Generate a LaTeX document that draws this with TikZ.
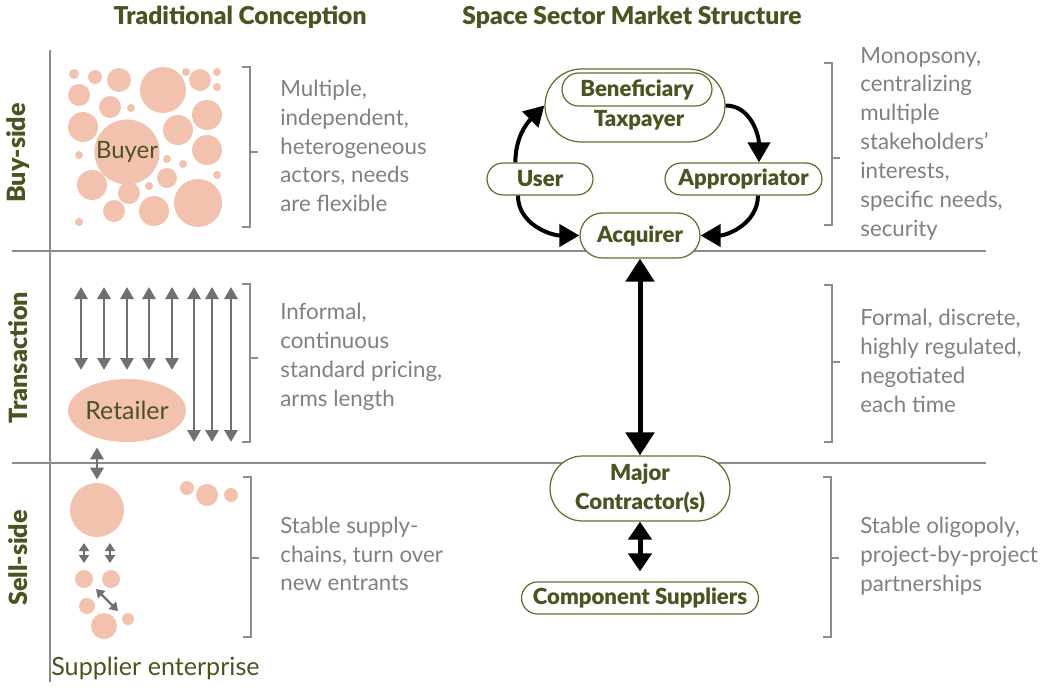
\documentclass[tikz,border=0pt]{standalone}
\usepackage{fontspec}
\setmainfont{Lato}
\newfontfamily\heavyfont{Lato Black}
\usepackage{tikz}
\usetikzlibrary{arrows.meta,shapes.misc,shapes.geometric}
\definecolor{olivetext}{HTML}{4B5320}
\definecolor{pilledge}{HTML}{6B6B30}
\definecolor{blush}{HTML}{F3C2AE}
\definecolor{greytext}{HTML}{808080}
\definecolor{greyline}{HTML}{8C8C8C}
\definecolor{greyarrow}{HTML}{707070}
\tikzset{
	blob/.style={fill=blush},
	pill/.style 2 args={rounded rectangle,draw=pilledge,line width=0.7pt,fill=white,text=olivetext,font=\heavyfont\fontsize{12.6}{16.5}\selectfont,align=center,minimum width=#1,minimum height=#2,inner sep=0pt},
	pilltext/.style={text=olivetext,font=\heavyfont\fontsize{12.6}{16.5}\selectfont,inner sep=0pt},
	head/.style={text=olivetext,font=\heavyfont\fontsize{14}{16}\selectfont},
	side/.style={text=olivetext,font=\heavyfont\fontsize{14.3}{16}\selectfont,rotate=90},
	note/.style={text=greytext,font=\fontsize{12.7}{16.4}\selectfont,align=left,anchor=west,inner sep=0pt},
	rule/.style={draw=greyline,line width=0.7pt},
	brk/.style={draw=greyline,line width=0.6pt},
	greydbl/.style={draw=greyarrow,line width=1.7pt,{Triangle[width=0.26cm,length=0.24cm]}-{Triangle[width=0.26cm,length=0.24cm]}},
	smalldbl/.style={draw=greyarrow,line width=1.3pt,{Triangle[width=0.2cm,length=0.16cm]}-{Triangle[width=0.2cm,length=0.16cm]}},
	bigarr/.style={line width=0.08cm,-{Triangle[width=0.44cm,length=0.4cm]}},
	vbig/.style={line width=0.1cm,{Triangle[width=0.56cm,length=0.46cm]}-{Triangle[width=0.56cm,length=0.46cm]}},
	vmid/.style={line width=0.1cm,{Triangle[width=0.46cm,length=0.36cm]}-{Triangle[width=0.46cm,length=0.36cm]}}
}
\begin{document}
\begin{tikzpicture}[x=0.02cm,y=-0.02cm]
	\useasboundingbox (0,0) rectangle (1052,687);

	\draw[rule] (12,251) -- (986,251);
	\draw[rule] (12,463) -- (986,463);
	\draw[rule] (50,50) -- (50,682);

	\node[head] (tradhead) at (240,17) {Traditional Conception};
	\node[head] (spacehead) at (632,17) {Space Sector Market Structure};
	\node[side] (buyside) at (18,153) {Buy-side};
	\node[side] (transside) at (18,358) {Transaction};
	\node[side] (sellside) at (18,558) {Sell-side};

	\foreach \cx/\cy/\r in {74/74/5, 95/77/7, 119/80/12, 163/90/23, 186/72/4, 200/80/11, 217/72/4, 217/87/4, 79/95/11, 110/107/11, 131/108/4, 83/127/15, 207/115/15, 178/130/15, 207/150/15, 79/155/4, 167/159/4, 183/164/4, 92/185/15, 167/178/10, 217/175/4, 149/186/4, 129/193/11, 198/203/24, 154/211/15, 114/211/11, 79/222/4}
		\fill[blob] (\cx,\cy) circle[radius=\r];
	\node[blob,circle,minimum size=1.12cm,inner sep=0pt,text=olivetext,font=\fontsize{13.6}{15}\selectfont] (buyer) at (127,152) {Buyer};

	\foreach \ax in {81,104,127,149,172}
		\draw[greydbl] (\ax,287) -- (\ax,370);
	\foreach \ax in {194,212,231}
		\draw[greydbl] (\ax,287) -- (\ax,442);
	\node[blob,ellipse,minimum width=2.24cm,minimum height=1.26cm,inner sep=0pt,text=olivetext,font=\fontsize{14.2}{16}\selectfont] (retailer) at (127,410.5) {Retailer};

	\node[blob,circle,minimum size=1.08cm,inner sep=0pt] (supplier) at (97,510) {};
	\draw[greydbl,shorten <=0.1cm,shorten >=0.06cm] (retailer.south -| supplier.north) -- (supplier.north);
	\foreach \cx/\cy/\r in {187/488/7, 207/495/11, 231/495/7, 84/579/9, 111/579/9, 87/606/8, 104/626/13, 128/619/6}
		\fill[blob] (\cx,\cy) circle[radius=\r];
	\draw[smalldbl] (84,543) -- (84,563);
	\draw[smalldbl] (110,543) -- (110,563);
	\draw[smalldbl] (96,589) -- (118,611);
	\node[anchor=west,inner sep=0pt,text=olivetext,font=\fontsize{14.3}{16}\selectfont] (supplierlbl) at (51,668) {Supplier enterprise};

	\foreach \bx/\ya/\ym/\yb in {250/67/152/227, 250/284/358/442, 251/477/558/637, 832/63/158/225, 832/285/362/442, 831/477/558/637}
		\draw[brk] (\bx-8,\ya) -- (\bx,\ya) -- (\bx,\yb) -- (\bx-8,\yb) (\bx,\ym) -- (\bx+8,\ym);

	\node[note] (buynote) at (280,146) {Multiple,\\independent,\\heterogeneous\\actors, needs\\are flexible};
	\node[note] (transnote) at (280,357) {Informal,\\continuous\\standard pricing,\\arms length};
	\node[note] (sellnote) at (280,554) {Stable supply-\\chains, turn over\\new entrants};
	\node[note] (monopnote) at (860,143.5) {Monopsony,\\centralizing\\multiple\\stakeholders'\\interests,\\specific needs,\\security};
	\node[note] (formalnote) at (860,361) {Formal, discrete,\\highly regulated,\\negotiated\\each time};
	\node[note] (oligonote) at (860,556) {Stable oligopoly,\\project-by-project\\partnerships};

	\node[pill={3.6cm}{1.46cm}] (taxpayer) at (635,105.5) {};
	\node[pill={3cm}{0.66cm}] (beneficiary) at (637,89.5) {Beneficiary};
	\node[pilltext] (taxtext) at (639,120) {Taxpayer};
	\node[pill={2.12cm}{0.64cm}] (user) at (540,179) {User};
	\node[pill={3.14cm}{0.64cm}] (approp) at (743.5,179) {Appropriator};
	\node[pill={2.4cm}{0.9cm}] (acquirer) at (640,235.5) {Acquirer};
	\node[pill={3.6cm}{1.3cm}] (major) at (640,488.5) {Major\\Contractor(s)};
	\node[pill={4.74cm}{0.64cm}] (component) at (640,598) {Component Suppliers};

	\draw[bigarr] (user.146) to[out=90,in=225] (taxpayer.west);
	\draw[bigarr] (taxpayer.east) to[out=0,in=90] (approp.47);
	\draw[bigarr] (user.217) to[out=270,in=180] (acquirer.west);
	\draw[bigarr] (approp.311) to[out=270,in=0] (acquirer.east);
	\draw[vbig] (acquirer.south) -- (major.north);
	\draw[vmid,shorten >=0.2cm] (major.south) -- (component.north);
\end{tikzpicture}
\end{document}
